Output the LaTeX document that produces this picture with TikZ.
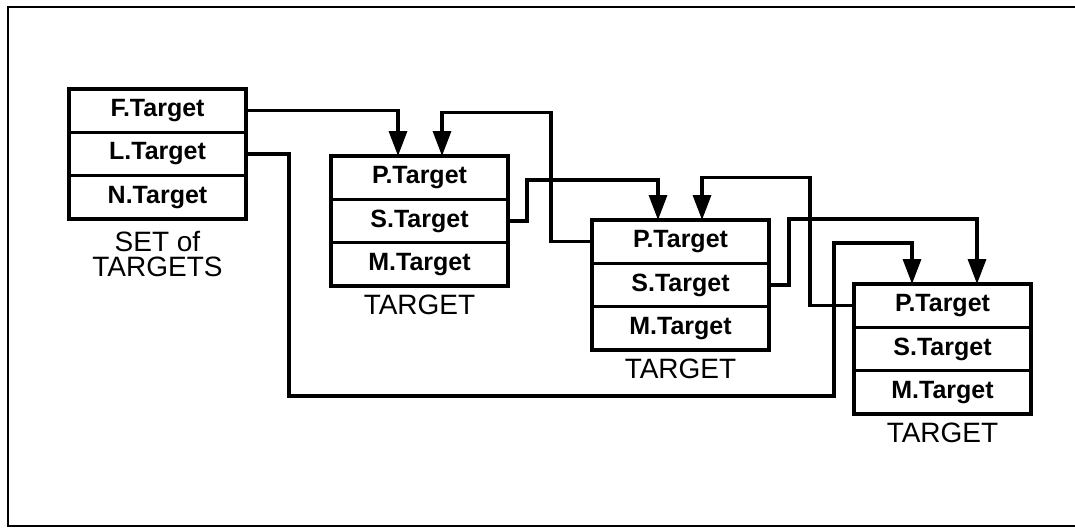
\documentclass[tikz,border=0pt]{standalone}
\usepackage{fontspec}
\setmainfont{Liberation Sans}
\usetikzlibrary{arrows.meta,calc}
\tikzset{
  cell/.style={draw, line width=3.5pt, minimum width=177pt, minimum height=43.3pt,
    inner sep=0pt, outer sep=0pt, anchor=north west,
    font=\bfseries\fontsize{25}{27}\selectfont},
  lbl/.style={inner sep=0pt, anchor=base, font=\fontsize{28}{28}\selectfont},
  wire/.style={line width=3.3pt, line join=miter},
  arr/.style={wire, -{Triangle[length=25pt,width=18pt]}},
  frame/.style={line width=2.8pt}
}
\begin{document}
\begin{tikzpicture}[x=1pt,y=-1pt]
\useasboundingbox (0,0) rectangle (1075,528);
% outer frame (right side beyond the picture)
\draw[frame] (1080,7) -- (8,7) -- (8,526) -- (1080,526);

% SET of TARGETS
\node[cell] (s1) at (69,89) {F.Target};
\node[cell] (s2) at (s1.south west) {L.Target};
\node[cell] (s3) at (s2.south west) {N.Target};
\node[inner sep=0pt, anchor=north, align=center,
      font=\fontsize{28}{25.5}\selectfont] (sl) at ($(s3.south)+(0,12)$) {SET of\\TARGETS};

% TARGET 1
\node[cell] (a1) at (331,156) {P.Target};
\node[cell] (a2) at (a1.south west) {S.Target};
\node[cell] (a3) at (a2.south west) {M.Target};
\node[lbl] (al) at ($(a3.south)+(0,29)$) {TARGET};

% TARGET 2
\node[cell] (b1) at (592,220) {P.Target};
\node[cell] (b2) at (b1.south west) {S.Target};
\node[cell] (b3) at (b2.south west) {M.Target};
\node[lbl] (bl) at ($(b3.south)+(0,29)$) {TARGET};

% TARGET 3
\node[cell] (c1) at (854,284) {P.Target};
\node[cell] (c2) at (c1.south west) {S.Target};
\node[cell] (c3) at (c2.south west) {M.Target};
\node[lbl] (cl) at ($(c3.south)+(0,29)$) {TARGET};

% connectors
\draw[arr] (s1.east) -| ($(a1.north west)+(67,0)$);
\draw[arr] (s2.east) -- ++(43,0) -- ++(0,242) -- ++(545,0) -- ++(0,-153)
   -| ($(c1.north west)+(58,0)$);
\draw[arr] (a2.east) -- ++(19,0) -- ++(0,-41) -| ($(b1.north west)+(66,0)$);
\draw[arr] (b1.west) -- ++(-41,0) -- ++(0,-129) -| ($(a1.north west)+(111,0)$);
\draw[arr] (b2.east) -- ++(20,0) -- ++(0,-66) -| ($(c1.north west)+(123,0)$);
\draw[arr] (c1.west) -- ++(-44,0) -- ++(0,-128) -| ($(b1.north west)+(110,0)$);
\end{tikzpicture}
\end{document}
